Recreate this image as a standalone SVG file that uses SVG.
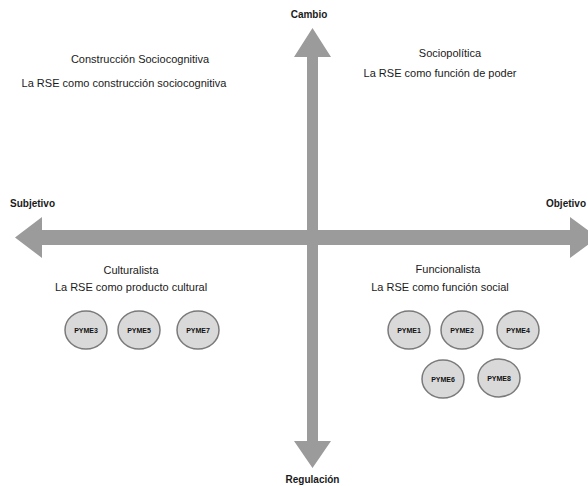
<svg xmlns="http://www.w3.org/2000/svg" width="588" height="486" viewBox="0 0 588 486">
<style>
.t{font-family:"Liberation Sans",Arial,sans-serif;font-size:11px;fill:#1a1a1a;text-anchor:middle}
.b{font-weight:bold;font-size:10px}
.ax{fill:#9b9b9b}
.c{fill:#d9d9d9;stroke:#7a7a7a;stroke-width:1.5}
.p{font-family:"Liberation Sans",Arial,sans-serif;font-size:7px;font-weight:bold;fill:#111;text-anchor:middle}
</style>
<rect width="588" height="486" fill="#fff"/>
<g id="connectors">
<polygon class="ax" points="42,230 570,230 570,217 598,237.5 570,258 570,245 42,245 42,258 15,237.5 42,217"/>
<polygon class="ax" points="307,57 294,57 312.5,28 331,57 318,57 318,441 331,441 312.5,468 294,441 307,441"/>
</g>
<g id="labels">
<text class="t b" x="309" y="18">Cambio</text>
<text class="t b" x="312.5" y="483">Regulación</text>
<text class="t b" x="10" y="207" style="text-anchor:start">Subjetivo</text>
<text class="t b" x="586" y="207" style="text-anchor:end">Objetivo</text>
<text class="t" x="140" y="63">Construcción Sociocognitiva</text>
<text class="t" x="124" y="87">La RSE como construcción sociocognitiva</text>
<text class="t" x="450" y="57">Sociopolítica</text>
<text class="t" x="440" y="77">La RSE como función de poder</text>
<text class="t" x="131" y="274">Culturalista</text>
<text class="t" x="131" y="291">La RSE como producto cultural</text>
<text class="t" x="448" y="273">Funcionalista</text>
<text class="t" x="440" y="291">La RSE como función social</text>
</g>
<g id="pyme3"><ellipse class="c" cx="86" cy="330" rx="21" ry="19"/><text class="p" x="86" y="332.5">PYME3</text></g>
<g id="pyme5"><ellipse class="c" cx="139" cy="330" rx="21" ry="19"/><text class="p" x="139" y="332.5">PYME5</text></g>
<g id="pyme7"><ellipse class="c" cx="198" cy="330" rx="21" ry="19"/><text class="p" x="198" y="332.5">PYME7</text></g>
<g id="pyme1"><ellipse class="c" cx="409" cy="330" rx="21" ry="19"/><text class="p" x="409" y="332.5">PYME1</text></g>
<g id="pyme2"><ellipse class="c" cx="462" cy="330" rx="21" ry="19"/><text class="p" x="462" y="332.5">PYME2</text></g>
<g id="pyme4"><ellipse class="c" cx="518" cy="330" rx="21" ry="19"/><text class="p" x="518" y="332.5">PYME4</text></g>
<g id="pyme6"><ellipse class="c" cx="443" cy="379" rx="21" ry="19"/><text class="p" x="443" y="381.5">PYME6</text></g>
<g id="pyme8"><ellipse class="c" cx="499" cy="378" rx="21" ry="19"/><text class="p" x="499" y="380.5">PYME8</text></g>
</svg>
